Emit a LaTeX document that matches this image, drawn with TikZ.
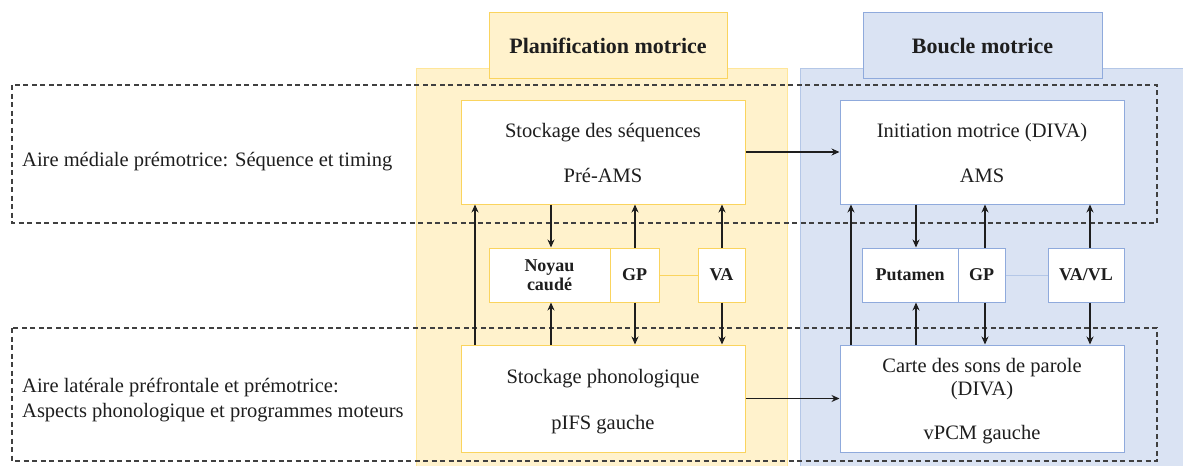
\documentclass[tikz,border=0pt]{standalone}
\usepackage{fontspec}
\setmainfont{Liberation Serif}
\usetikzlibrary{arrows.meta}

\definecolor{goldfill}{HTML}{FFF2CC}
\definecolor{goldedge}{HTML}{FAD45E}
\definecolor{goldpanel}{HTML}{FFE699}
\definecolor{bluefill}{HTML}{DAE3F3}
\definecolor{blueedge}{HTML}{8FAADC}
\definecolor{bluepanel}{HTML}{B4C7E7}
\definecolor{ink}{HTML}{1E1E1E}

\tikzset{
  txt/.style={font=\fontsize{20.5}{24}\selectfont, text=ink, inner sep=0pt},
  lbl/.style={txt, anchor=base},
  lblw/.style={txt, anchor=base west},
  headY/.style={draw=goldedge, fill=goldfill, line width=1pt, inner sep=0pt},
  headB/.style={draw=blueedge, fill=bluefill, line width=1pt, inner sep=0pt},
  headtxt/.style={lbl, font=\fontsize{22}{26}\selectfont\bfseries},
  boxY/.style={draw=goldedge, fill=white, line width=1pt, inner sep=0pt},
  boxB/.style={draw=blueedge, fill=white, line width=1pt, inner sep=0pt},
  nucY/.style={boxY, align=center, text=ink,
    font=\fontsize{18}{19}\selectfont\bfseries},
  nucB/.style={boxB, align=center, text=ink,
    font=\fontsize{18}{19}\selectfont\bfseries},
  zone/.style={draw=ink!85, line width=1.2pt, dash pattern=on 5pt off 3.5pt},
  arr/.style={draw=ink, line width=1.7pt, -{Stealth[length=8pt,width=7pt]}},
}

\begin{document}
\begin{tikzpicture}[x=1pt,y=-1pt]
\useasboundingbox (0,0) rectangle (1183,466);

% column backgrounds
\fill[goldfill] (416,68) rectangle (787,466);
\draw[goldpanel, line width=1pt] (416,466) -- (416,68) -- (787,68) -- (787,466);
\fill[bluefill] (800,68) rectangle (1183,466);
\draw[bluepanel, line width=1pt] (800,466) -- (800,68) -- (1183,68);

% column headers
\node[headY, minimum width=238pt, minimum height=66pt] (hplan) at (608,45) {};
\node[headtxt] (tplan) at (608,53) {Planification motrice};
\node[headB, minimum width=239pt, minimum height=66pt] (hloop) at (982.5,45) {};
\node[headtxt] (tloop) at (982.5,53) {Boucle motrice};

% cortical areas (dashed bands)
\draw[zone] (12,85) rectangle (1157,223);
\draw[zone] (12,328) rectangle (1157,461);
\node[lblw] (zmed) at (22,166) {Aire médiale prémotrice: Séquence et timing};
\node[lblw] (zlat1) at (22,392) {Aire latérale préfrontale et prémotrice:};
\node[lblw] (zlat2) at (22,417) {Aspects phonologique et programmes moteurs};

% cortical boxes
\node[boxY, minimum width=284pt, minimum height=104pt] (preams) at (603,152) {};
\node[lbl] (tpre1) at (603,137) {Stockage des séquences};
\node[lbl] (tpre2) at (603,182) {Pré-AMS};

\node[boxB, minimum width=284pt, minimum height=104pt] (ams) at (982,152) {};
\node[lbl] (tams1) at (982,137) {Initiation motrice (DIVA)};
\node[lbl] (tams2) at (982,182) {AMS};

\node[boxY, minimum width=284pt, minimum height=107pt] (pifs) at (603,398.5) {};
\node[lbl] (tpifs1) at (603,383) {Stockage phonologique};
\node[lbl] (tpifs2) at (603,429) {pIFS gauche};

\node[boxB, minimum width=284pt, minimum height=107pt] (vpcm) at (982,398.5) {};
\node[lbl] (tvpcm1) at (982,372) {Carte des sons de parole};
\node[lbl] (tvpcm2) at (982,395) {(DIVA)};
\node[lbl] (tvpcm3) at (982,439) {vPCM gauche};

% basal ganglia and thalamus
\node[nucY, minimum width=121pt, minimum height=54pt] (caud) at (549.5,275) {Noyau\\caudé};
\node[nucY, minimum width=49pt, minimum height=54pt] (gpY) at (634.5,275) {GP};
\node[nucY, minimum width=47pt, minimum height=54pt] (vaY) at (721.5,275) {VA};
\draw[goldedge, line width=1pt] (gpY.east) -- (vaY.west);

\node[nucB, minimum width=96pt, minimum height=54pt] (put) at (910,275) {Putamen};
\node[nucB, minimum width=47pt, minimum height=54pt] (gpB) at (981.5,275) {GP};
\node[nucB, minimum width=76pt, minimum height=54pt] (vaB) at (1086,275) {VA/VL};
\draw[bluepanel, line width=1pt] (gpB.east) -- (vaB.west);

% columns of the vertical connectors
\coordinate (c1) at (475,0);
\coordinate (c2) at (551,0);
\coordinate (c3) at (635,0);
\coordinate (c4) at (722,0);
\coordinate (c5) at (851,0);
\coordinate (c6) at (916,0);
\coordinate (c7) at (985,0);
\coordinate (c8) at (1090,0);

% planning loop
\draw[arr] (pifs.north -| c1) -- (preams.south -| c1);
\draw[arr] (preams.south -| c2) -- (caud.north -| c2);
\draw[arr] (pifs.north -| c2) -- (caud.south -| c2);
\draw[arr] (gpY.north -| c3) -- (preams.south -| c3);
\draw[arr] (gpY.south -| c3) -- (pifs.north -| c3);
\draw[arr] (vaY.north -| c4) -- (preams.south -| c4);
\draw[arr] (vaY.south -| c4) -- (pifs.north -| c4);

% motor loop
\draw[arr] (vpcm.north -| c5) -- (ams.south -| c5);
\draw[arr] (ams.south -| c6) -- (put.north -| c6);
\draw[arr] (vpcm.north -| c6) -- (put.south -| c6);
\draw[arr] (gpB.north -| c7) -- (ams.south -| c7);
\draw[arr] (gpB.south -| c7) -- (vpcm.north -| c7);
\draw[arr] (vaB.north -| c8) -- (ams.south -| c8);
\draw[arr] (vaB.south -| c8) -- (vpcm.north -| c8);

% planning to execution
\draw[arr] (preams.east) -- (ams.west);
\draw[arr] (pifs.east) -- (vpcm.west);
\end{tikzpicture}
\end{document}
